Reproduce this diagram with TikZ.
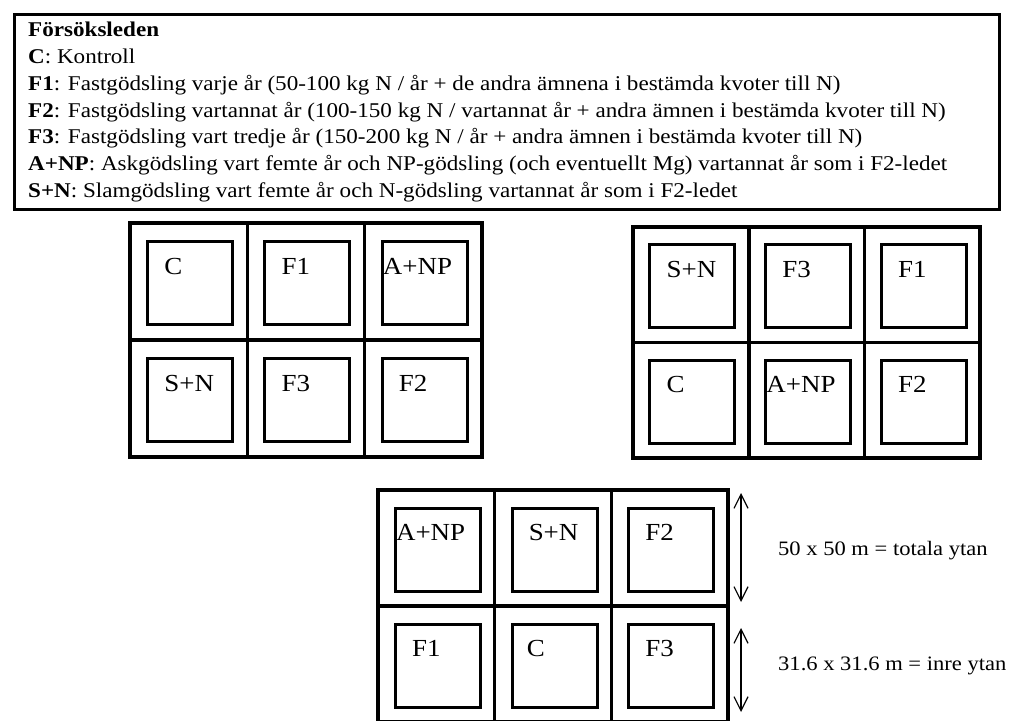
\documentclass[tikz,border=0pt]{standalone}
\usepackage{fontspec}
\setmainfont[FakeStretch=1.1]{Liberation Serif}
\usetikzlibrary{arrows.meta}
\tikzset{
  frame/.style={draw, line width=2.5pt, inner sep=0pt, anchor=north west},
  outer/.style={line width=4pt},
  divider/.style={line width=3.5pt},
  plot/.style={draw, line width=3pt, minimum width=85pt, minimum height=83pt, inner sep=0pt, anchor=north west},
  plotlabel/.style={anchor=base west, inner sep=0pt, font=\fontsize{24.5}{24.5}\selectfont},
  legendline/.style={anchor=base west, inner sep=0pt, font=\fontsize{21}{21}\selectfont},
  dimtext/.style={anchor=base west, inner sep=0pt, font=\fontsize{20.5}{20.5}\selectfont},
  dim/.style={line width=1.2pt, {Straight Barb[length=14pt,width=14pt]}-{Straight Barb[length=14pt,width=14pt]}},
}
% #1 name, #2 left, #3 top, #4 cell width, #5 cell height, #6 labels (row/col/text/dx)
\newcommand\fieldgrid[6]{%
  \draw[outer] (#2,#3) rectangle ++(3*#4,2*#5);
  \draw[divider] (#2+#4,#3) -- ++(0,2*#5);
  \draw[divider] (#2+2*#4,#3) -- ++(0,2*#5);
  \draw[divider] (#2,#3+#5) -- ++(3*#4,0);
  \foreach \r/\c/\t/\dx in {#6}{
    \pgfmathsetmacro\px{#2+\c*#4+(#4-85)/2}
    \pgfmathsetmacro\py{#3+\r*#5+(#5-83)/2}
    \node[plot] (#1-\r-\c) at (\px,\py) {};
    \node[plotlabel] (#1-\r-\c-lab) at (\px+\dx,\py+34) {\t};
  }%
}
\begin{document}
\begin{tikzpicture}[x=1pt,y=-1pt]
\useasboundingbox (0,0) rectangle (1014,720);

% treatment legend
\node[frame, minimum width=985pt, minimum height=195pt] (legend) at (13,13) {};
\node[legendline] (leg0) at (28,36.5) {\textbf{Försöksleden}};
\node[legendline] (leg1) at (28,63.5) {\textbf{C}: Kontroll};
\node[legendline] (leg2) at (28,90.3) {\textbf{F1}: Fastgödsling varje år (50-100 kg N / år + de andra ämnena i bestämda kvoter till N)};
\node[legendline] (leg3) at (28,117.1) {\textbf{F2}: Fastgödsling vartannat år (100-150 kg N / vartannat år + andra ämnen i bestämda kvoter till N)};
\node[legendline] (leg4) at (28,143.9) {\textbf{F3}: Fastgödsling vart tredje år (150-200 kg N / år + andra ämnen i bestämda kvoter till N)};
\node[legendline] (leg5) at (28,170.7) {\textbf{A+NP}: Askgödsling vart femte år och NP-gödsling (och eventuellt Mg) vartannat år som i F2-ledet};
\node[legendline] (leg6) at (28,197.5) {\textbf{S+N}: Slamgödsling vart femte år och N-gödsling vartannat år som i F2-ledet};

% three blocks of plots
\fieldgrid{ga}{130}{223}{117.3}{117}{0/0/C/18, 0/1/F1/18, 0/2/A+NP/2, 1/0/S+N/18, 1/1/F3/18, 1/2/F2/18}
\fieldgrid{gb}{633}{227}{115.8}{115.5}{0/0/S+N/18, 0/1/F3/18, 0/2/F1/18, 1/0/C/18, 1/1/A+NP/2, 1/2/F2/18}
\fieldgrid{gc}{378}{490}{116.7}{116}{0/0/A+NP/2, 0/1/S+N/18, 0/2/F2/18, 1/0/F1/18, 1/1/C/16, 1/2/F3/18}

% dimensions
\coordinate (tot-top) at (741,493);
\coordinate (tot-bot) at (741,602);
\coordinate (inre-top) at (741,628);
\coordinate (inre-bot) at (741,712);
\draw[dim] (tot-top) -- (tot-bot);
\draw[dim] (inre-top) -- (inre-bot);
\node[dimtext] (tot-lab) at (778,555) {50 x 50 m = totala ytan};
\node[dimtext] (inre-lab) at (778,670) {31.6 x 31.6 m = inre ytan};
\end{tikzpicture}
\end{document}
